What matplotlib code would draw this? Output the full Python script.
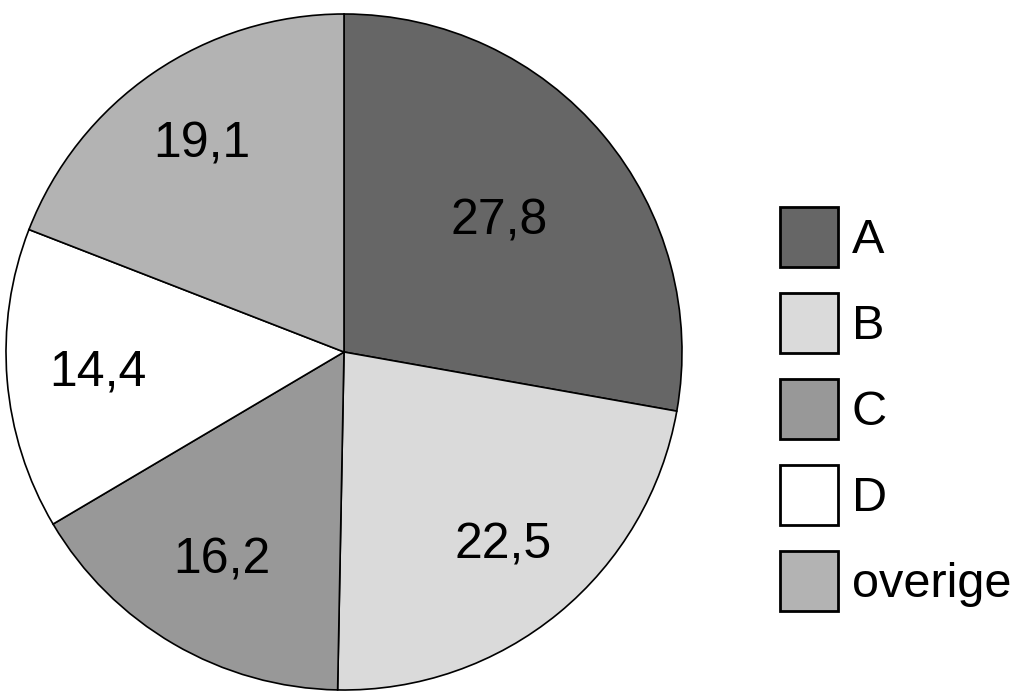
import numpy as np
import matplotlib.pyplot as plt
from matplotlib.patches import Patch

plt.rcParams['font.family'] = ['Liberation Sans', 'DejaVu Sans']

categories = ["A", "B", "C", "D", "overige"]
shares = [27.8, 22.5, 16.2, 14.4, 19.1]
colors = ["#666666", "#dadada", "#989898", "#ffffff", "#b3b3b3"]
# how far out each number sits (fraction of the radius)
label_dist = [0.60, 0.74, 0.715, 0.73, 0.745]

fig = plt.figure(figsize=(10.23, 6.98), dpi=100)
ax = fig.add_axes([6 / 1023, 8 / 698, 676 / 1023, 676 / 698])

labels = [f"{v:.1f}".replace(".", ",") for v in shares]
wedges, texts = ax.pie(shares, colors=colors, startangle=90, counterclock=False,
                       labels=labels, labeldistance=0.74, radius=1,
                       wedgeprops=dict(edgecolor="black", linewidth=1.2),
                       textprops=dict(fontsize=36))

for w, t, d in zip(wedges, texts, label_dist):
    ang = np.deg2rad((w.theta1 + w.theta2) / 2)
    t.set_position((d * np.cos(ang), d * np.sin(ang)))
    t.set_ha("center")
    t.set_va("center")

ax.set_xlim(-1, 1)
ax.set_ylim(-1, 1)
ax.set_aspect("equal")

handles = [Patch(facecolor=c, edgecolor="black", linewidth=2) for c in colors]
fig.legend(handles, categories, loc="center left",
           bbox_to_anchor=(780 / 1023, 289 / 698), bbox_transform=fig.transFigure,
           frameon=False, fontsize=35, handlelength=1.2, handleheight=1.5,
           labelspacing=0.55, handletextpad=0.28, borderpad=0, borderaxespad=0)

fig.savefig("out.png")
